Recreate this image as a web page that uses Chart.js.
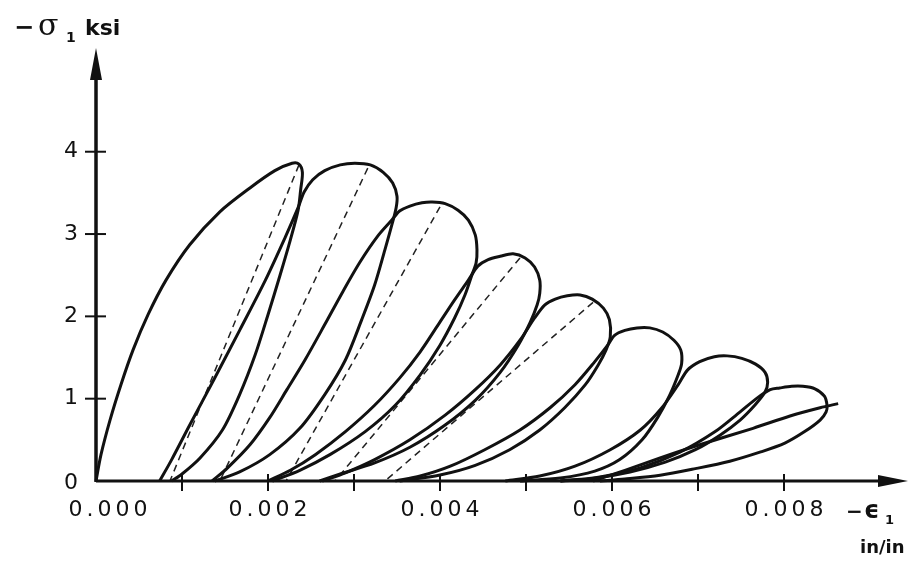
<!DOCTYPE html>
<html>
<head>
<meta charset="utf-8">
<script src="https://cdn.jsdelivr.net/npm/chart.js@4"></script>
<style>
body{margin:0;background:#fff}
</style>
</head>
<body>
<canvas id="loops" width="919" height="562"></canvas>
<script>

// strain (in/in), stress (ksi)
const loop1 = [[0,0],[0.000058,0.32],[0.000163,0.74],[0.00029,1.17],[0.00043,1.59],[0.000605,2.02],[0.000814,2.44],[0.00109,2.87],[0.00144,3.27],[0.00179,3.56],[0.00208,3.77],[0.00228,3.86],[0.00236,3.85],[0.0024,3.75],[0.00238,3.54],[0.00235,3.29],[0.00226,2.93],[0.00214,2.50],[0.002,2.02],[0.00185,1.53],[0.00167,1.05],[0.00147,0.62],[0.00121,0.28],[0.001,0.085],[0.00088,0]]

const loop2 = [[0.00074,0],[0.00088,0.26],[0.00109,0.68],[0.00137,1.23],[0.00167,1.83],[0.00197,2.44],[0.0022,2.96],[0.00235,3.32],[0.00242,3.51],[0.00252,3.66],[0.00266,3.77],[0.00284,3.84],[0.00301,3.86],[0.00319,3.84],[0.00334,3.75],[0.00345,3.62],[0.0035,3.46],[0.00349,3.32],[0.00344,3.11],[0.00336,2.81],[0.00324,2.38],[0.00309,1.96],[0.0029,1.47],[0.00266,1.05],[0.00237,0.64],[0.00202,0.32],[0.00167,0.11],[0.00138,0]]

const loop3 = [[0.00135,0],[0.00153,0.16],[0.00179,0.44],[0.00202,0.77],[0.00222,1.11],[0.00243,1.47],[0.00266,1.90],[0.00287,2.30],[0.00307,2.66],[0.00328,2.98],[0.00344,3.17],[0.00353,3.28],[0.00365,3.34],[0.00379,3.38],[0.00391,3.39],[0.00406,3.37],[0.00421,3.29],[0.00433,3.17],[0.00441,2.99],[0.00443,2.81],[0.00442,2.65],[0.00437,2.50],[0.00429,2.26],[0.00417,1.98],[0.004,1.65],[0.00377,1.29],[0.00348,0.92],[0.00313,0.60],[0.00272,0.32],[0.00237,0.13],[0.00205,0]]

const loop4 = [[0.002,0],[0.00226,0.13],[0.00255,0.32],[0.0029,0.60],[0.00324,0.92],[0.00353,1.25],[0.00377,1.57],[0.00398,1.90],[0.00417,2.20],[0.00433,2.44],[0.00444,2.61],[0.00456,2.69],[0.0047,2.73],[0.00485,2.76],[0.00499,2.71],[0.0051,2.60],[0.00516,2.44],[0.00516,2.28],[0.00513,2.14],[0.00505,1.93],[0.00491,1.65],[0.0047,1.32],[0.00441,0.98],[0.00406,0.68],[0.00365,0.41],[0.00324,0.22],[0.00284,0.085],[0.0026,0]]

const loop5 = [[0.00263,0],[0.0029,0.10],[0.00324,0.26],[0.00365,0.50],[0.00406,0.80],[0.00441,1.11],[0.0047,1.41],[0.00493,1.71],[0.0051,1.98],[0.00522,2.14],[0.00534,2.21],[0.00548,2.25],[0.00563,2.26],[0.00577,2.21],[0.0059,2.10],[0.00597,1.96],[0.00598,1.75],[0.00593,1.59],[0.00584,1.41],[0.00569,1.17],[0.00545,0.89],[0.00516,0.62],[0.00481,0.38],[0.00441,0.19],[0.004,0.073],[0.00353,0]]

const loop6 = [[0.00348,0],[0.00377,0.06],[0.00412,0.18],[0.00452,0.38],[0.00493,0.62],[0.00528,0.89],[0.00557,1.17],[0.0058,1.45],[0.00595,1.65],[0.00603,1.77],[0.00615,1.83],[0.00629,1.86],[0.00644,1.86],[0.00659,1.81],[0.00672,1.71],[0.0068,1.59],[0.00681,1.43],[0.00677,1.29],[0.00667,1.04],[0.00653,0.77],[0.00635,0.50],[0.00609,0.26],[0.0058,0.12],[0.0054,0.036],[0.00493,0]]

const loop7 = [[0.00476,0],[0.00516,0.06],[0.00557,0.18],[0.00598,0.38],[0.00633,0.62],[0.00658,0.89],[0.00677,1.17],[0.00688,1.35],[0.00702,1.45],[0.00719,1.51],[0.00734,1.52],[0.00751,1.49],[0.00767,1.42],[0.00778,1.32],[0.00781,1.20],[0.00778,1.08],[0.00766,0.92],[0.00749,0.74],[0.00726,0.56],[0.00697,0.38],[0.00662,0.23],[0.00621,0.11],[0.00574,0.024],[0.0054,0]]

const loop8 = [[0.0054,0],[0.00586,0.05],[0.00633,0.16],[0.00679,0.35],[0.0072,0.60],[0.00749,0.84],[0.00769,1.01],[0.00784,1.11],[0.00795,1.13],[0.00809,1.15],[0.00822,1.15],[0.00836,1.12],[0.00847,1.03],[0.0085,0.92],[0.00849,0.84],[0.00842,0.74],[0.00824,0.60],[0.00801,0.46],[0.00772,0.35],[0.00737,0.24],[0.00697,0.15],[0.00656,0.07],[0.00615,0.024],[0.00586,0]]

const lastReload = [[0.00578,0],[0.00615,0.13],[0.00656,0.28],[0.00702,0.44],[0.00764,0.64],[0.00807,0.79],[0.00842,0.89],[0.00863,0.94]]

// dashed straight lines inside the first five loops
const dashed1 = [[0.00236,3.84],[0.00086,0]]
const dashed2 = [[0.00316,3.80],[0.00144,0]]
const dashed3 = [[0.004,3.33],[0.00221,0]]
const dashed4 = [[0.00493,2.71],[0.00278,0]]
const dashed5 = [[0.00578,2.17],[0.00336,0]]

const xTickValues = [0.001,0.002,0.003,0.004,0.005,0.006,0.007,0.008]
const xLabelValues = [0,0.002,0.004,0.006,0.008]
const xLabels = ["0.000","0.002","0.004","0.006","0.008"]
const yTickValues = [1,2,3,4]
const yLabelValues = [0,1,2,3,4]
const yLabels = ["0","1","2","3","4"]

const solidCurves = [loop1,loop2,loop3,loop4,loop5,loop6,loop7,loop8,lastReload]
const dashedLines = [dashed1,dashed2,dashed3,dashed4,dashed5]

function toPts(arr){
return arr.map(p=>({x:p[0],y:p[1]}))
}

let datasets = []

solidCurves.forEach((c,i)=>{
datasets.push({
label:"loop "+(i+1),
data:toPts(c),
showLine:true,
borderColor:"#111",
borderWidth:3,
pointRadius:0,
tension:0.3,
fill:false,
clip:false
})
})

dashedLines.forEach((c,i)=>{
datasets.push({
label:"dashed "+(i+1),
data:toPts(c),
showLine:true,
borderColor:"#222",
borderWidth:1.5,
borderDash:[7,5],
pointRadius:0,
tension:0,
fill:false,
clip:false
})
})

const axesPlugin = {
id:"axes",
afterDatasetsDraw(chart){

const ctx = chart.ctx
const x = chart.scales.x
const y = chart.scales.y
const x0 = x.getPixelForValue(0)
const y0 = y.getPixelForValue(0)
const xEnd = x.getPixelForValue(x.max)
const yEnd = y.getPixelForValue(y.max)

ctx.save()
ctx.strokeStyle = "#111"
ctx.fillStyle = "#111"

// axis lines
ctx.lineWidth = 3
ctx.beginPath()
ctx.moveTo(x0,y0)
ctx.lineTo(xEnd-20,y0)
ctx.stroke()
ctx.lineWidth = 3.5
ctx.beginPath()
ctx.moveTo(x0,y0+1)
ctx.lineTo(x0,yEnd+20)
ctx.stroke()

// arrow heads
ctx.beginPath()
ctx.moveTo(xEnd,y0)
ctx.lineTo(xEnd-30,y0-6)
ctx.lineTo(xEnd-30,y0+6)
ctx.closePath()
ctx.fill()
ctx.beginPath()
ctx.moveTo(x0,yEnd)
ctx.lineTo(x0-6,yEnd+32)
ctx.lineTo(x0+6,yEnd+32)
ctx.closePath()
ctx.fill()

// tick marks
ctx.lineWidth = 2
xTickValues.forEach(v=>{
const px = x.getPixelForValue(v)
ctx.beginPath()
ctx.moveTo(px,y0-7)
ctx.lineTo(px,y0+10)
ctx.stroke()
})
yTickValues.forEach(v=>{
const py = y.getPixelForValue(v)
ctx.beginPath()
ctx.moveTo(x0-11,py)
ctx.lineTo(x0+10,py)
ctx.stroke()
})

// tick labels
ctx.font = "22px 'DejaVu Sans'"
ctx.letterSpacing = "4px"
ctx.textAlign = "center"
ctx.textBaseline = "middle"
xLabelValues.forEach((v,i)=>{
let px = x.getPixelForValue(v)
if(i==0) px += 12
ctx.fillText(xLabels[i],px+2,y0+29)
})
ctx.letterSpacing = "0px"
ctx.textAlign = "right"
yLabelValues.forEach((v,i)=>{
let py = y.getPixelForValue(v)
if(i==0) py += 2
ctx.fillText(yLabels[i],x0-18,py)
})

// axis titles
ctx.textAlign = "left"
ctx.textBaseline = "alphabetic"
ctx.font = "bold 24px 'DejaVu Sans'"
ctx.fillText("\u2212",14,35)
ctx.font = "30px 'DejaVu Serif'"
ctx.fillText("\u03C3",38,35)
ctx.font = "bold 14px 'DejaVu Sans'"
ctx.fillText("1",66,42)
ctx.font = "bold 22px 'DejaVu Sans'"
ctx.fillText("ksi",85,35)

ctx.font = "bold 20px 'DejaVu Sans'"
ctx.fillText("\u2212",846,518)
ctx.font = "bold 24px 'DejaVu Sans'"
ctx.fillText("\u03F5",864,518)
ctx.font = "bold 13px 'DejaVu Sans'"
ctx.fillText("1",885,524)
ctx.font = "bold 18px 'DejaVu Sans'"
ctx.fillText("in/in",860,553)

ctx.restore()
}
}

new Chart(document.getElementById("loops"),{
type:"scatter",
data:{datasets:datasets},
options:{
responsive:false,
animation:false,
layout:{padding:{left:96,right:11,top:48,bottom:81}},
plugins:{legend:{display:false},tooltip:{enabled:false}},
scales:{
x:{type:"linear",min:0,max:0.009442,display:false},
y:{type:"linear",min:0,max:5.26,display:false}
}
},
plugins:[axesPlugin]
})

</script>
</body>
</html>
